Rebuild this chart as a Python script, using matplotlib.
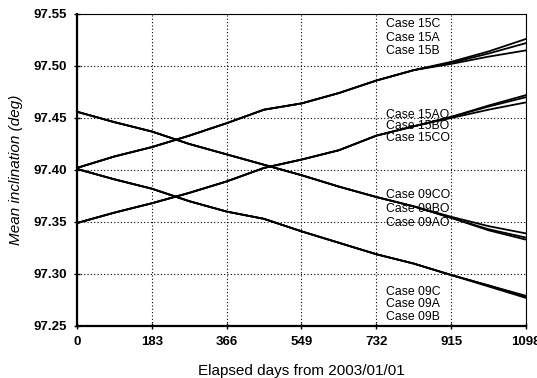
import numpy as np
import matplotlib.pyplot as plt

plt.rcParams['font.family'] = ['Liberation Sans', 'DejaVu Sans']

days = [0, 91.5, 183, 274.5, 366, 457.5, 549, 640.5, 732, 823.5, 915, 1006.5, 1098]

# Case 15 (A, B, C) - upper rising family
case_15c = [97.402, 97.413, 97.422, 97.433, 97.445, 97.458, 97.464, 97.474, 97.486, 97.496, 97.504, 97.514, 97.526]
case_15a = [97.402, 97.413, 97.422, 97.433, 97.445, 97.458, 97.464, 97.474, 97.486, 97.496, 97.503, 97.512, 97.522]
case_15b = [97.402, 97.413, 97.422, 97.433, 97.445, 97.458, 97.464, 97.474, 97.486, 97.496, 97.502, 97.509, 97.515]

# Case 15xO - lower rising family
case_15ao = [97.349, 97.359, 97.368, 97.378, 97.389, 97.402, 97.410, 97.419, 97.433, 97.442, 97.451, 97.462, 97.472]
case_15bo = [97.349, 97.359, 97.368, 97.378, 97.389, 97.402, 97.410, 97.419, 97.433, 97.442, 97.451, 97.461, 97.470]
case_15co = [97.349, 97.359, 97.368, 97.378, 97.389, 97.402, 97.410, 97.419, 97.433, 97.442, 97.450, 97.458, 97.465]

# Case 09xO - upper falling family
case_09co = [97.456, 97.446, 97.437, 97.425, 97.415, 97.405, 97.395, 97.384, 97.374, 97.365, 97.355, 97.346, 97.339]
case_09bo = [97.456, 97.446, 97.437, 97.425, 97.415, 97.405, 97.395, 97.384, 97.374, 97.365, 97.354, 97.343, 97.335]
case_09ao = [97.456, 97.446, 97.437, 97.425, 97.415, 97.405, 97.395, 97.384, 97.374, 97.365, 97.354, 97.342, 97.333]

# Case 09 (A, B, C) - lower falling family
case_09c = [97.401, 97.391, 97.382, 97.370, 97.360, 97.353, 97.341, 97.330, 97.319, 97.310, 97.299, 97.289, 97.279]
case_09a = [97.401, 97.391, 97.382, 97.370, 97.360, 97.353, 97.341, 97.330, 97.319, 97.310, 97.299, 97.289, 97.278]
case_09b = [97.401, 97.391, 97.382, 97.370, 97.360, 97.353, 97.341, 97.330, 97.319, 97.310, 97.299, 97.288, 97.277]

series = [case_15c, case_15a, case_15b, case_15ao, case_15bo, case_15co,
          case_09co, case_09bo, case_09ao, case_09c, case_09a, case_09b]

# case labels written beside the curves
label_x = 756
labels = [
    (97.540, "Case 15C"), (97.527, "Case 15A"), (97.5144, "Case 15B"),
    (97.453, "Case 15AO"), (97.442, "Case 15BO"), (97.431, "Case 15CO"),
    (97.376, "Case 09CO"), (97.3625, "Case 09BO"), (97.349, "Case 09AO"),
    (97.283, "Case 09C"), (97.271, "Case 09A"), (97.259, "Case 09B"),
]

x_ticks = [0, 183, 366, 549, 732, 915, 1098]
y_ticks = [97.25, 97.30, 97.35, 97.40, 97.45, 97.50, 97.55]

fig = plt.figure(figsize=(5.37, 3.78), dpi=100)
ax = fig.add_axes([0.1434, 0.1376, 0.8361, 0.8254])

for s in series:
    ax.plot(days, s, color='black', lw=1.3)

for y, txt in labels:
    ax.text(label_x, y, txt, fontsize=8.8, va='center', ha='left', color='black')

ax.set_xlim(0, 1098)
ax.set_ylim(97.25, 97.55)
ax.set_xticks(x_ticks)
ax.set_yticks(y_ticks)
ax.set_xticklabels([str(t) for t in x_ticks], fontweight='bold', fontsize=9.5)
ax.set_yticklabels([f"{t:.2f}" for t in y_ticks], fontweight='bold', fontsize=9.5)
ax.tick_params(direction='inout', length=4, width=1, pad=5)

ax.grid(True, color='black', linestyle=(0, (1, 2)), linewidth=0.8)

for side in ['left', 'bottom']:
    ax.spines[side].set_linewidth(1.6)
for side in ['top', 'right']:
    ax.spines[side].set_linewidth(0.8)

ax.set_xlabel("Elapsed days from 2003/01/01", fontsize=11, labelpad=12)
ax.set_ylabel("Mean inclination (deg)", fontsize=11, style='italic', labelpad=8)

fig.savefig("out.png", dpi=100)
